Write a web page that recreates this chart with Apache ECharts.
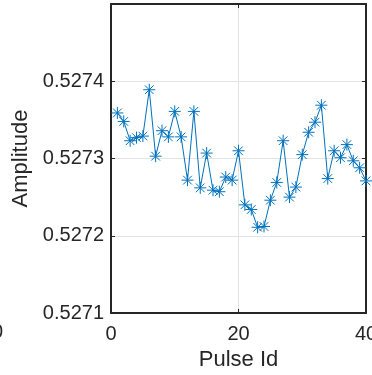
<!DOCTYPE html>
<html>
<head>
<meta charset="utf-8">
<script src="https://cdn.jsdelivr.net/npm/echarts@6/dist/echarts.min.js"></script>
<style>
  html, body { margin: 0; padding: 0; background: #fff; }
  #chart { width: 372px; height: 375px; }
</style>
</head>
<body>
<div id="chart"></div>
<script>
// pulse index 1..40
const pulseIds = [
  1, 2, 3, 4, 5, 6, 7, 8, 9, 10,
  11, 12, 13, 14, 15, 16, 17, 18, 19, 20,
  21, 22, 23, 24, 25, 26, 27, 28, 29, 30,
  31, 32, 33, 34, 35, 36, 37, 38, 39, 40
];
const amplitude = [
  0.527359, 0.527348, 0.527323, 0.527327, 0.527329, 0.527389, 0.527303, 0.527336, 0.527328, 0.527361,
  0.527328, 0.527272, 0.527361, 0.527262, 0.527307, 0.527259, 0.527257, 0.527276, 0.527272, 0.527310,
  0.527240, 0.527234, 0.527211, 0.527212, 0.527246, 0.527269, 0.527323, 0.527250, 0.527263, 0.527305,
  0.527334, 0.527347, 0.527369, 0.527274, 0.527310, 0.527301, 0.527318, 0.527297, 0.527288, 0.527271
];
const xTicks = [0, 20, 40];
const yTicks = [0.5271, 0.5272, 0.5273, 0.5274];

const font = "'Liberation Sans', Arial, sans-serif";
const ink = "#262626";
const blue = "#0072BD";
// MATLAB '*' marker: plus + cross
const star = "path://M0,-1L0,1M-1,0L1,0M-0.72,-0.72L0.72,0.72M-0.72,0.72L0.72,-0.72";

const chart = echarts.init(document.getElementById("chart"));

const frameAxis = {
  axisLine: { show: true, onZero: false, lineStyle: { color: ink, width: 2 } },
  axisTick: { show: true, inside: true, length: 4, lineStyle: { color: ink, width: 1 } },
};

chart.setOption({
  animation: false,
  backgroundColor: "#fff",
  grid: { left: 111, right: 6, top: 4, bottom: 62, outerBoundsMode: "none", containLabel: false },
  xAxis: [
    {
      type: "value",
      min: xTicks[0],
      max: xTicks[xTicks.length - 1],
      interval: 20,
      name: "Pulse Id",
      nameLocation: "middle",
      nameGap: 35,
      nameTextStyle: { fontFamily: font, fontSize: 22, color: ink },
      ...frameAxis,
      axisLabel: { fontFamily: font, fontSize: 20, color: ink, margin: 11 },
      splitLine: { show: true, lineStyle: { color: "#e3e3e3", width: 1 } },
    },
    {
      type: "value",
      position: "top",
      min: xTicks[0],
      max: xTicks[xTicks.length - 1],
      interval: 20,
      ...frameAxis,
      axisLabel: { show: false },
      splitLine: { show: false },
    },
  ],
  yAxis: [
    {
      type: "value",
      min: yTicks[0],
      max: 0.5275,
      interval: 0.0001,
      name: "Amplitude",
      nameLocation: "middle",
      nameGap: 68,
      nameTextStyle: { fontFamily: font, fontSize: 22, color: ink },
      ...frameAxis,
      axisLabel: {
        fontFamily: font, fontSize: 20, color: ink, margin: 7,
        showMaxLabel: false,
        formatter: (v) => v.toFixed(4),
      },
      splitLine: { show: true, lineStyle: { color: "#e3e3e3", width: 1 } },
    },
    {
      type: "value",
      position: "right",
      min: yTicks[0],
      max: 0.5275,
      interval: 0.0001,
      ...frameAxis,
      axisLabel: { show: false },
      splitLine: { show: false },
    },
  ],
  graphic: [
    {
      // cut-off tick label of the neighbouring panel
      type: "text",
      left: -19,
      top: 322,
      style: { text: "40", font: "20px " + font, fill: ink },
    },
  ],
  series: [
    {
      type: "line",
      data: pulseIds.map((id, i) => [id, amplitude[i]]),
      symbol: star,
      symbolSize: 12,
      showAllSymbol: true,
      lineStyle: { color: blue, width: 1 },
      itemStyle: { color: "rgba(0,0,0,0)", borderColor: blue, borderWidth: 1 },
      z: 3,
    },
  ],
});
</script>
</body>
</html>
